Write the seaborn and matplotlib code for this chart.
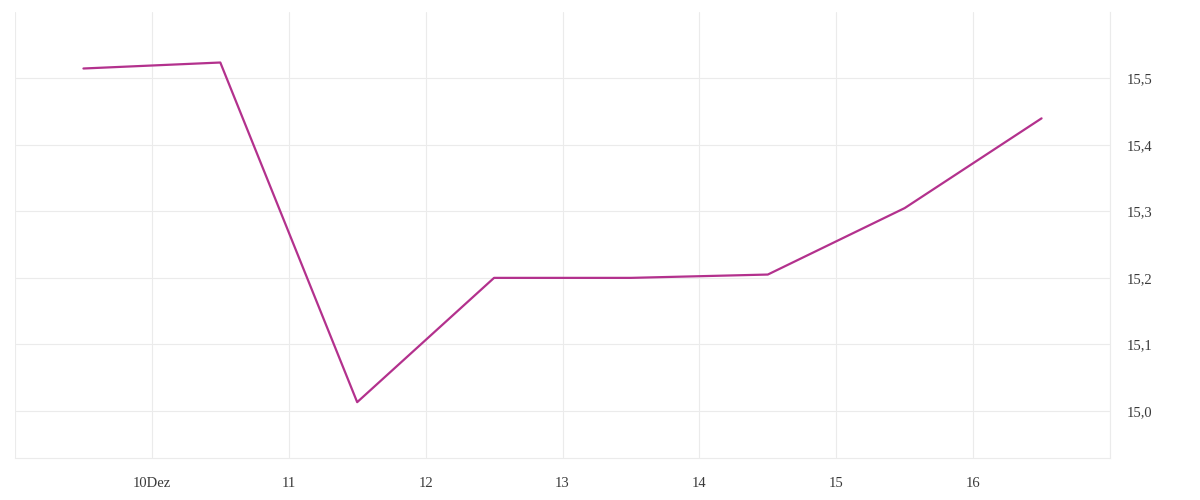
import pandas as pd
import seaborn as sns
import matplotlib.pyplot as plt
from matplotlib.ticker import FixedLocator, FuncFormatter

# values, one point per day at noon
days = [9.5, 10.5, 11.5, 12.5, 13.5, 14.5, 15.5, 16.5]
values = [15.515, 15.524, 15.013, 15.200, 15.200, 15.205, 15.305, 15.440]
x_ticks = [9, 10, 11, 12, 13, 14, 15, 16, 17]
x_labels = ['', '10Dez', '11', '12', '13', '14', '15', '16', '']
y_ticks = [15.0, 15.1, 15.2, 15.3, 15.4, 15.5]

df = pd.DataFrame({'day': days, 'value': values})

sns.set_style('white')
plt.rcParams['font.family'] = ['Liberation Serif', 'DejaVu Serif']

grid_col = '#ebebeb'
text_col = '#3a3a3a'

fig = plt.figure(figsize=(12, 5), dpi=100)
ax = fig.add_axes([0.0125, 0.084, 0.9125, 0.892])

sns.lineplot(data=df, x='day', y='value', ax=ax, color='#b3318d', linewidth=1.6)

ax.set_xlim(9, 17)
ax.set_ylim(14.929, 15.6)
ax.xaxis.set_major_locator(FixedLocator(x_ticks))
ax.set_xticklabels(x_labels)
ax.yaxis.set_major_locator(FixedLocator(y_ticks))
ax.yaxis.set_major_formatter(FuncFormatter(lambda v, p: f'{v:.1f}'.replace('.', ',')))
ax.yaxis.tick_right()

ax.grid(True, color=grid_col, linewidth=0.8)
ax.set_axisbelow(True)
for side in ['top', 'left']:
    ax.spines[side].set_visible(False)
ax.spines['bottom'].set_color(grid_col)
ax.spines['right'].set_color(grid_col)
ax.spines['bottom'].set_linewidth(0.8)
ax.spines['right'].set_linewidth(0.8)

ax.tick_params(axis='x', length=7, width=0.8, color=grid_col, labelsize=10.5,
               labelcolor=text_col, pad=7)
ax.tick_params(axis='y', length=0, labelsize=10.5, labelcolor=text_col, pad=12)
ax.set_xlabel('')
ax.set_ylabel('')

fig.savefig('out.png', dpi=100)
